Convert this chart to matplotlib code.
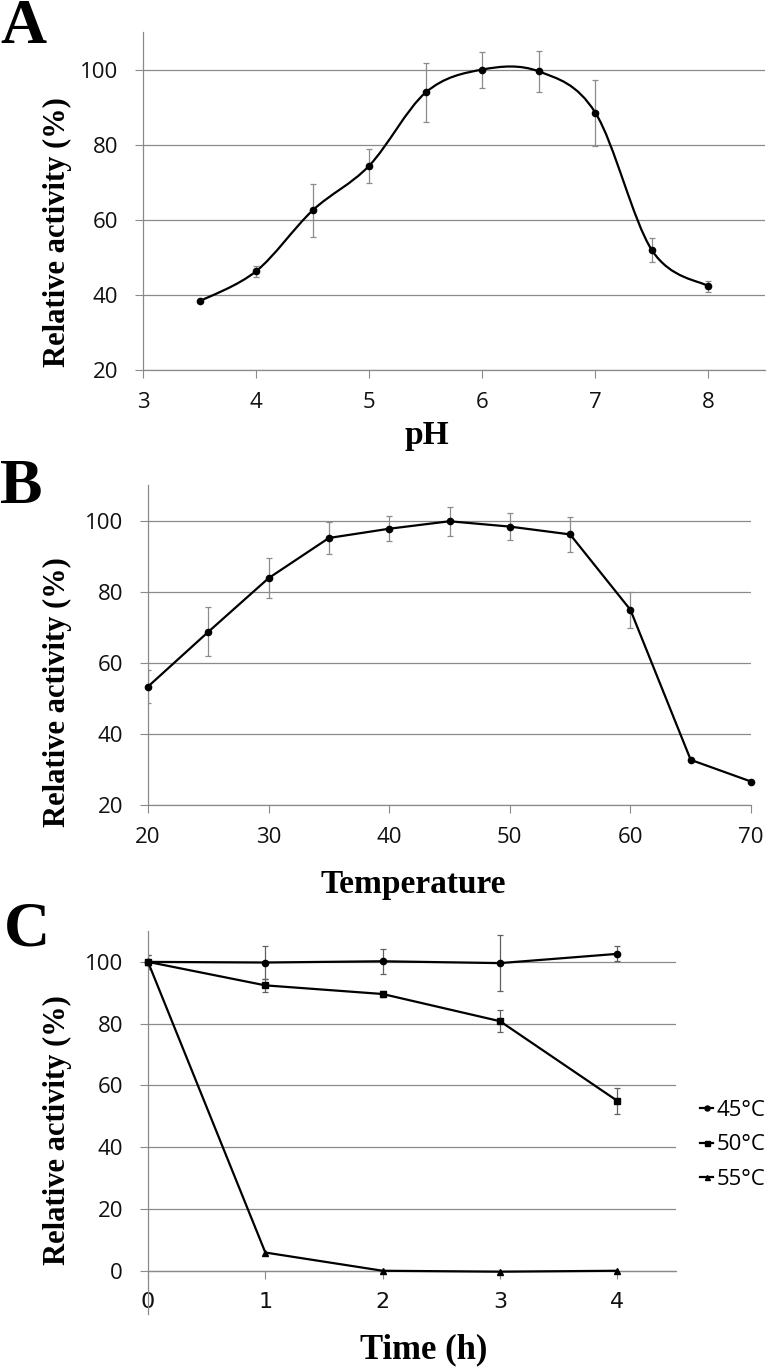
import numpy as np
import matplotlib
matplotlib.use("Agg")
import matplotlib.pyplot as plt
from matplotlib.path import Path
from matplotlib.patches import PathPatch

# ---------------- data ----------------
ph = [3.5, 4.0, 4.5, 5.0, 5.5, 6.0, 6.5, 7.0, 7.5, 8.0]
ph_activity = [38.3, 46.3, 62.5, 74.4, 93.9, 100.0, 99.5, 88.5, 51.9, 42.3]
ph_error = [0.0, 1.5, 7.1, 4.5, 7.9, 4.8, 5.5, 8.8, 3.2, 1.4]

temperature = [20, 25, 30, 35, 40, 45, 50, 55, 60, 65, 70]
temp_activity = [53.3, 68.7, 83.8, 95.1, 97.7, 99.8, 98.3, 96.1, 74.9, 32.7, 26.6]
temp_error = [4.7, 6.9, 5.7, 4.6, 3.5, 4.1, 3.8, 4.9, 5.0, 0.0, 0.0]

time_h = [0, 1, 2, 3, 4]
act_45 = [100.0, 99.8, 100.2, 99.6, 102.6]
err_45 = [2.3, 5.3, 4.0, 9.0, 2.4]
act_50 = [100.0, 92.4, 89.6, 80.8, 55.0]
err_50 = [2.3, 2.0, 1.0, 3.5, 4.3]
act_55 = [100.0, 5.9, 0.0, -0.3, 0.0]
series_labels = ["45°C", "50°C", "55°C"]

# ---------------- style ----------------
W, H = 771, 1368
DPI = 100
GRID = "#8a8a8a"
TICKFONT = "Open Sans"
SERIF = "Liberation Serif"
TICKSIZE = 16

fig = plt.figure(figsize=(W / DPI, H / DPI), dpi=DPI)


def add_axes_px(left, top, right, bottom):
    return fig.add_axes([left / W, 1 - bottom / H, (right - left) / W, (bottom - top) / H])


def style_axes(ax, yticks, xticks):
    for s in ("top", "right"):
        ax.spines[s].set_visible(False)
    for s in ("left", "bottom"):
        ax.spines[s].set_color(GRID)
        ax.spines[s].set_linewidth(0.9)
    ax.set_yticks(yticks)
    ax.set_xticks(xticks)
    ax.yaxis.grid(True, color=GRID, linewidth=0.9)
    ax.set_axisbelow(True)
    ax.tick_params(axis="both", direction="out", length=6, width=0.8, color=GRID,
                   labelsize=TICKSIZE, labelcolor="#111111")
    ax.tick_params(axis="y", pad=12)
    ax.tick_params(axis="x", pad=9.5)
    for lab in ax.get_xticklabels() + ax.get_yticklabels():
        lab.set_family(TICKFONT)


def smooth_path(x, y):
    pts = np.column_stack([x, y]).astype(float)
    n = len(pts)
    verts = [pts[0]]
    codes = [Path.MOVETO]
    for i in range(n - 1):
        p0 = pts[max(i - 1, 0)]
        p1 = pts[i]
        p2 = pts[i + 1]
        p3 = pts[min(i + 2, n - 1)]
        c1 = p1 + (p2 - p0) / 6.0
        c2 = p2 - (p3 - p1) / 6.0
        verts += [c1, c2, p2]
        codes += [Path.CURVE4] * 3
    return Path(verts, codes)


def label_texts(letter, letter_xy, ylab_xy, xlab, xlab_xy, xlab_size):
    fig.text(letter_xy[0] / W, 1 - letter_xy[1] / H, letter, family=SERIF,
             fontweight="bold", fontsize=46, ha="left", va="baseline")
    fig.text(ylab_xy[0] / W, 1 - ylab_xy[1] / H, "Relative activity (%)", family=SERIF,
             fontweight="bold", fontsize=22, rotation=90, ha="center", va="center")
    fig.text(xlab_xy[0] / W, 1 - xlab_xy[1] / H, xlab, family=SERIF,
             fontweight="bold", fontsize=xlab_size, ha="center", va="baseline")


ERR_KW = dict(fmt="none", ecolor="#8c8c8c", elinewidth=0.9, capsize=2.4, capthick=0.9)

# ---------------- Panel A ----------------
axA = add_axes_px(143, 32, 765, 370)
axA.set_xlim(3, 8.5)
axA.set_ylim(20, 110)
style_axes(axA, [20, 40, 60, 80, 100], [3, 4, 5, 6, 7, 8])
axA.errorbar(ph, ph_activity, yerr=ph_error, zorder=2, **ERR_KW)
axA.add_patch(PathPatch(smooth_path(ph, ph_activity), fill=False, lw=1.6,
                        ec="black", zorder=3))
axA.plot(ph, ph_activity, "o", color="black", ms=4.5, zorder=4)
label_texts("A", (0, 43), (57, 232), "pH", (427, 444), 24)

# ---------------- Panel B ----------------
axB = add_axes_px(148, 485, 751, 805)
axB.set_xlim(20, 70)
axB.set_ylim(20, 110)
style_axes(axB, [20, 40, 60, 80, 100], [20, 30, 40, 50, 60, 70])
axB.errorbar(temperature, temp_activity, yerr=temp_error, zorder=2, **ERR_KW)
axB.plot(temperature, temp_activity, "-o", color="black", lw=1.6, ms=4.5, zorder=4,
         clip_on=False)
label_texts("B", (0, 503), (57, 692), "Temperature", (413, 893), 24)

# ---------------- Panel C ----------------
axC = add_axes_px(148, 931, 676, 1314)
axC.set_xlim(0, 4.5)
axC.set_ylim(-14, 110)
style_axes(axC, [0, 20, 40, 60, 80, 100], [0, 1, 2, 3, 4])
axC.spines["bottom"].set_position(("data", 0))
ERR_C = dict(ERR_KW)
ERR_C["ecolor"] = "#606060"
axC.errorbar(time_h, act_45, yerr=err_45, zorder=2, **ERR_C)
axC.errorbar(time_h, act_50, yerr=err_50, zorder=2, **ERR_C)
h45, = axC.plot(time_h, act_45, "-o", color="black", lw=1.6, ms=4.5, zorder=4,
                clip_on=False, label=series_labels[0])
h50, = axC.plot(time_h, act_50, "-s", color="black", lw=1.6, ms=4.5, zorder=4,
                clip_on=False, label=series_labels[1])
h55, = axC.plot(time_h, act_55, "-^", color="black", lw=1.6, ms=4.5, zorder=4,
                clip_on=False, label=series_labels[2])
label_texts("C", (4, 945), (57, 1130), "Time (h)", (424, 1358), 25)

leg = fig.legend(handles=[h45, h50, h55], labels=series_labels, loc="center left",
                 bbox_to_anchor=(700 / W, 1 - 1145 / H), frameon=False,
                 prop={"family": TICKFONT, "size": TICKSIZE}, handlelength=0.6,
                 handletextpad=0.15, labelspacing=0.6, borderpad=0, borderaxespad=0,
                 markerscale=0.8)

fig.savefig("out.png", dpi=DPI)
